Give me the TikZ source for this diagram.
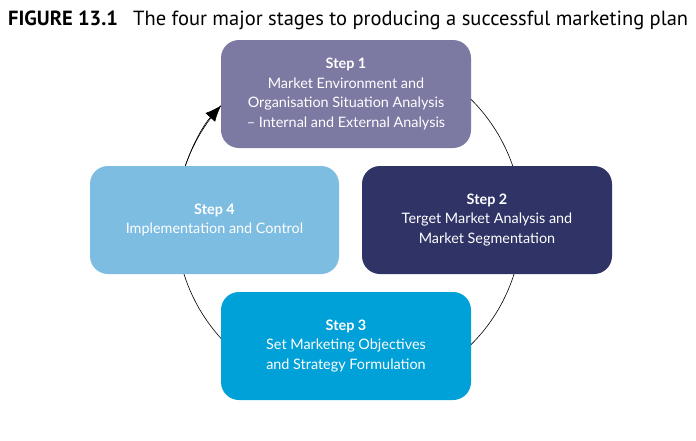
\documentclass[tikz,border=0pt]{standalone}
\usepackage{fontspec}
\setmainfont{Lato}
\newfontfamily\titlefont{PT Sans}
\usetikzlibrary{arrows.meta}

\definecolor{stepone}{HTML}{7C79A2}
\definecolor{steptwo}{HTML}{2F3366}
\definecolor{stepthree}{HTML}{00A1D8}
\definecolor{stepfour}{HTML}{7DBDE1}

\tikzset{
    stepbox/.style={rounded corners=18pt, minimum width=250pt, minimum height=108pt,
        inner sep=0pt, text=white, align=center, font=\fontsize{14.4}{19.5}\selectfont},
    figtitle/.style={anchor=base west, inner sep=0pt, font=\titlefont\fontsize{20.5}{24}\selectfont},
}

\begin{document}
\begin{tikzpicture}[x=1pt, y=-1pt, >={Latex[length=16pt,width=13pt]}]
    \useasboundingbox[fill=white] (0,0) rectangle (696,440);

    \node[figtitle, font=\titlefont\bfseries\fontsize{20.5}{24}\selectfont] (fignum) at (8,25) {FIGURE 13.1};
    \node[figtitle] (caption) at (133,25) {The four major stages to producing a successful marketing plan};

    % the cycle runs behind the four boxes
    \coordinate (hub) at (349,222);
    \draw[line width=0.6pt] (hub) circle (173);
    \draw[->, line width=0.6pt] (hub) ++(195:173) arc[start angle=195, end angle=222.3, radius=173];

    \node[stepbox, fill=stepone] (step1) at (346,94)
        {\textbf{Step 1}\\Market Environment and\\Organisation Situation Analysis\\– Internal and External Analysis};
    \node[stepbox, fill=steptwo] (step2) at (487,220)
        {\textbf{Step 2}\\Terget Market Analysis and\\Market Segmentation};
    \node[stepbox, fill=stepthree] (step3) at (346,346)
        {\textbf{Step 3}\\Set Marketing Objectives\\and Strategy Formulation};
    \node[stepbox, fill=stepfour, minimum width=249pt] (step4) at (214.5,220)
        {\textbf{Step 4}\\Implementation and Control};
\end{tikzpicture}
\end{document}
